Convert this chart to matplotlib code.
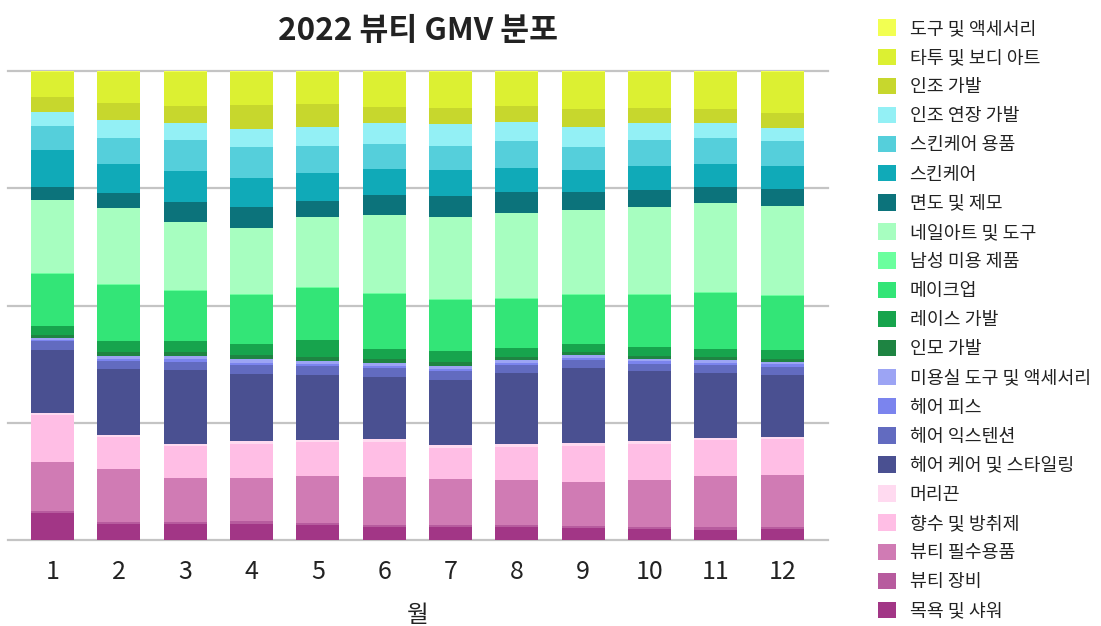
import matplotlib
matplotlib.use("Agg")
import matplotlib.pyplot as plt
from matplotlib.patches import Patch
import numpy as np

plt.rcParams["font.family"] = ["Noto Sans CJK KR", "DejaVu Sans"]

months = [str(m) for m in range(1, 13)]

# GMV share (%) per category, stacked from bottom to top
bath_shower = [5.83, 3.41, 3.41, 3.41, 3.2, 2.77, 2.77, 2.77, 2.56, 2.35, 2.13, 2.35]
beauty_device = [0.43, 0.43, 0.43, 0.64, 0.43, 0.43, 0.43, 0.43, 0.43, 0.42, 0.64, 0.42]
beauty_essentials = [10.39, 11.31, 9.36, 9.15, 10.03, 10.25, 9.8, 9.6, 9.41, 10.03, 10.89, 11.1]
fragrance = [10.03, 6.83, 6.8, 7.3, 7.24, 7.45, 6.6, 7.05, 7.6, 7.7, 7.68, 7.68]
hair_ties = [0.42, 0.43, 0.5, 0.6, 0.44, 0.65, 0.7, 0.65, 0.7, 0.6, 0.46, 0.43]
hair_care = [13.45, 14.09, 15.8, 14.3, 13.86, 13.25, 13.85, 15.1, 16.0, 15.0, 13.8, 13.22]
hair_extension = [1.78, 1.7, 1.7, 1.95, 1.9, 1.9, 1.95, 1.75, 1.7, 1.5, 1.75, 1.7]
hair_piece = [0.27, 0.43, 0.6, 0.45, 0.4, 0.4, 0.4, 0.45, 0.4, 0.6, 0.45, 0.6]
salon_tools = [0.5, 0.64, 0.67, 0.8, 0.7, 0.7, 0.6, 0.6, 0.7, 0.4, 0.6, 0.5]
human_hair_wig = [0.66, 0.86, 0.86, 0.9, 0.86, 0.8, 0.9, 0.66, 0.6, 0.7, 0.66, 0.6]
lace_wig = [1.92, 2.34, 2.34, 2.3, 3.63, 2.2, 2.3, 1.94, 1.7, 1.9, 1.74, 2.0]
makeup = [11.1, 11.93, 10.68, 10.5, 11.11, 11.7, 10.9, 10.4, 10.5, 11.1, 11.9, 11.5]
mens_grooming = [0.15, 0.15, 0.15, 0.15, 0.15, 0.15, 0.15, 0.15, 0.15, 0.15, 0.15, 0.15]
nail_art = [15.64, 16.3, 14.6, 14.15, 14.95, 16.75, 17.55, 18.25, 17.95, 18.65, 19.05, 19.05]
shaving = [2.78, 3.2, 4.25, 4.3, 3.4, 4.2, 4.5, 4.5, 3.9, 3.6, 3.45, 3.6]
skincare = [7.89, 6.19, 6.61, 6.2, 6.0, 5.4, 5.4, 5.1, 4.5, 5.1, 4.89, 4.9]
skincare_tools = [5.13, 5.56, 6.44, 6.6, 5.8, 5.5, 5.3, 5.6, 5.1, 5.4, 5.56, 5.2]
synthetic_ext = [2.98, 3.8, 3.8, 4.0, 4.0, 4.5, 4.5, 4.2, 4.2, 3.8, 3.2, 2.9]
synthetic_wig = [3.2, 3.64, 3.6, 5.1, 4.9, 3.4, 3.6, 3.4, 3.7, 3.2, 2.8, 3.2]
tattoo = [5.15, 6.46, 7.1, 6.9, 6.7, 7.3, 7.5, 7.1, 7.9, 7.5, 7.9, 8.6]
tools_acc = [0.3, 0.3, 0.3, 0.3, 0.3, 0.3, 0.3, 0.3, 0.3, 0.3, 0.3, 0.3]

series = [
    ("목욕 및 샤워", bath_shower, "#a23686"),
    ("뷰티 장비", beauty_device, "#b75b9e"),
    ("뷰티 필수용품", beauty_essentials, "#d07bb4"),
    ("향수 및 방취제", fragrance, "#ffbee5"),
    ("머리끈", hair_ties, "#ffdaf0"),
    ("헤어 케어 및 스타일링", hair_care, "#4a5091"),
    ("헤어 익스텐션", hair_extension, "#626bc0"),
    ("헤어 피스", hair_piece, "#7b84ee"),
    ("미용실 도구 및 액세서리", salon_tools, "#9ca4f4"),
    ("인모 가발", human_hair_wig, "#1e8442"),
    ("레이스 가발", lace_wig, "#17a44d"),
    ("메이크업", makeup, "#33e577"),
    ("남성 미용 제품", mens_grooming, "#6bff9e"),
    ("네일아트 및 도구", nail_art, "#a7fec0"),
    ("면도 및 제모", shaving, "#0c737b"),
    ("스킨케어", skincare, "#10aab8"),
    ("스킨케어 용품", skincare_tools, "#55cfdb"),
    ("인조 연장 가발", synthetic_ext, "#93f0f5"),
    ("인조 가발", synthetic_wig, "#c7d72d"),
    ("타투 및 보디 아트", tattoo, "#dcf032"),
    ("도구 및 액세서리", tools_acc, "#f2ff52"),
]

fig = plt.figure(figsize=(11.01, 6.26), dpi=100)
ax = fig.add_axes([8 / 1101, 86 / 626, 820 / 1101, 469 / 626])

x = np.arange(len(months))
totals = np.sum([np.array(v) for _, v, _ in series], axis=0)
bottom = np.zeros(len(months))
handles = []
for name, vals, color in series:
    share = np.array(vals) / totals * 100
    ax.bar(x, share, bottom=bottom, width=0.65, color=color, linewidth=0)
    bottom += share
    handles.append(Patch(facecolor=color, edgecolor="none", label=name))

ax.set_xlim(-0.67, 11.69)
ax.set_ylim(0, 100)
ax.set_yticks([0, 25, 50, 75, 100])
ax.set_yticklabels([])
ax.yaxis.grid(True, color="#c4c4c4", linewidth=1.6)
ax.set_axisbelow(True)
for line in ax.get_ygridlines():
    line.set_clip_on(False)
ax.tick_params(axis="both", length=0)
ax.set_xticks(x)
ax.set_xticklabels(months, fontsize=18, color="#222222")
ax.tick_params(axis="x", pad=14)
for s in ax.spines.values():
    s.set_visible(False)

ax.set_xlabel("월", fontsize=17, color="#222222", labelpad=13)
ax.set_title("2022 뷰티 GMV 분포", fontsize=22.6, fontweight="bold", color="#222222", pad=22)

fig.legend(
    handles=handles[::-1],
    loc="upper left",
    bbox_to_anchor=(861 / 1101, 1 - 3 / 626),
    frameon=False,
    fontsize=13.2,
    handlelength=1.0,
    handleheight=1.0,
    handletextpad=0.75,
    labelspacing=0.58,
    labelcolor="#222222",
)

fig.savefig("out.png", dpi=100)
